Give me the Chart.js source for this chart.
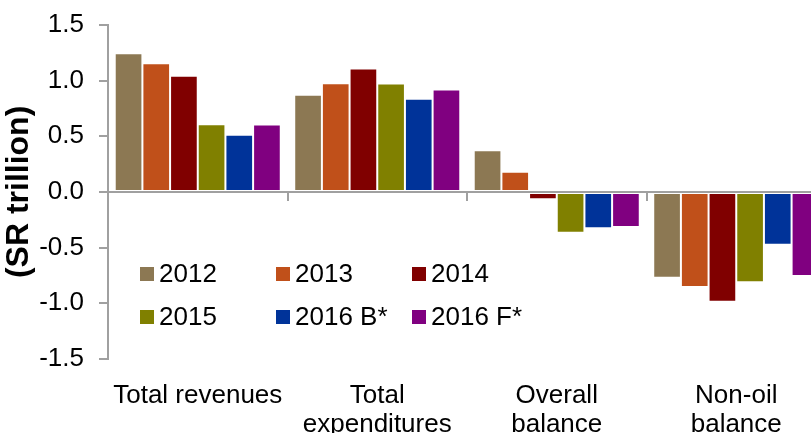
<!DOCTYPE html>
<html>
<head>
<meta charset="utf-8">
<script src="https://cdn.jsdelivr.net/npm/chart.js@4/dist/chart.umd.min.js"></script>
<style>
    html, body { margin: 0; padding: 0; background: #fff; overflow: hidden; }
    #wrap { position: relative; width: 826px; height: 462px; }
    #legend {
        position: absolute;
        left: 140px;
        top: 252px;
        display: grid;
        grid-template-columns: repeat(3, 136px);
        grid-auto-rows: 43px;
        font: 26px "Liberation Sans", Arial, sans-serif;
        color: #000;
    }
    #legend .item { display: flex; align-items: center; white-space: nowrap; }
    #legend .swatch { width: 14px; height: 14px; margin-right: 5px; flex: none; }
</style>
</head>
<body>
<div id="wrap">
    <canvas id="chart"></canvas>
    <div id="legend"></div>
</div>
<script>
(function () {
    "use strict";

    const categories = ["Total revenues", ["Total", "expenditures"], ["Overall", "balance"], ["Non-oil", "balance"]];
    const seriesNames = ["2012", "2013", "2014", "2015", "2016 B*", "2016 F*"];
    const seriesColors = ["#8c7853", "#c0501a", "#800000", "#808000", "#003399", "#800080"];

    const values2012 = [1.247, 0.873, 0.374, -0.771];
    const values2013 = [1.156, 0.976, 0.180, -0.855];
    const values2014 = [1.044, 1.110, -0.066, -0.987];
    const values2015 = [0.608, 0.975, -0.367, -0.813];
    const values2016B = [0.514, 0.838, -0.326, -0.475];
    const values2016F = [0.605, 0.920, -0.316, -0.756];

    const seriesValues = [values2012, values2013, values2014, values2015, values2016B, values2016F];

    const axisColor = "#a0a0a0";
    const fontFamily = '"Liberation Sans", Arial, sans-serif';

    const datasets = seriesNames.map((name, i) => ({
        label: name,
        data: seriesValues[i],
        backgroundColor: seriesColors[i],
        borderColor: "rgba(255, 255, 255, 0.3)",
        borderWidth: 1,
        borderSkipped: false,
        barPercentage: 1,
        categoryPercentage: 0.925,
        xAxisID: "x",
        yAxisID: "y"
    }));

    new Chart(document.getElementById("chart"), {
        type: "bar",
        data: { labels: categories, datasets },
        options: {
            responsive: true,
            maintainAspectRatio: false,
            animation: false,
            layout: { padding: { top: 0, left: 0, right: 0, bottom: 0 } },
            plugins: {
                legend: { display: false },
                tooltip: { enabled: false }
            },
            scales: {
                x: {
                    type: "category",
                    position: "bottom",
                    offset: true,
                    grid: { display: false, drawTicks: false },
                    border: { display: false },
                    ticks: {
                        color: "#000",
                        font: { size: 26, family: fontFamily, lineHeight: 1.1 },
                        padding: 23,
                        maxRotation: 0,
                        autoSkip: false
                    }
                },
                xz: {
                    type: "category",
                    labels: categories,
                    position: { y: 0 },
                    offset: true,
                    grid: {
                        display: true,
                        offset: true,
                        drawOnChartArea: false,
                        drawTicks: true,
                        tickLength: 8,
                        color: axisColor,
                        lineWidth: 2
                    },
                    border: { display: true, color: axisColor, width: 2 },
                    ticks: { display: false }
                },
                y: {
                    min: -1.5,
                    max: 1.5,
                    afterFit: (scale) => {
                        scale.width = 108;
                        scale.paddingTop = 25;
                        scale.paddingBottom = 0;
                    },
                    title: {
                        display: true,
                        text: "(SR trillion)",
                        color: "#000",
                        font: { size: 32, weight: "bold", family: fontFamily },
                        padding: { top: 0, bottom: 0 }
                    },
                    grid: {
                        display: true,
                        drawOnChartArea: false,
                        drawTicks: true,
                        tickLength: 9,
                        color: axisColor,
                        lineWidth: 2
                    },
                    border: { display: true, color: axisColor, width: 2 },
                    ticks: {
                        stepSize: 0.5,
                        color: "#000",
                        padding: 15,
                        font: { size: 26, family: fontFamily },
                        callback: (value) => Number(value).toFixed(1)
                    }
                }
            }
        }
    });

    const legendEl = document.getElementById("legend");
    seriesNames.forEach((name, i) => {
        const item = document.createElement("div");
        item.className = "item";
        const swatch = document.createElement("span");
        swatch.className = "swatch";
        swatch.style.background = seriesColors[i];
        const text = document.createElement("span");
        text.textContent = name;
        item.appendChild(swatch);
        item.appendChild(text);
        legendEl.appendChild(item);
    });
}());
</script>
</body>
</html>
